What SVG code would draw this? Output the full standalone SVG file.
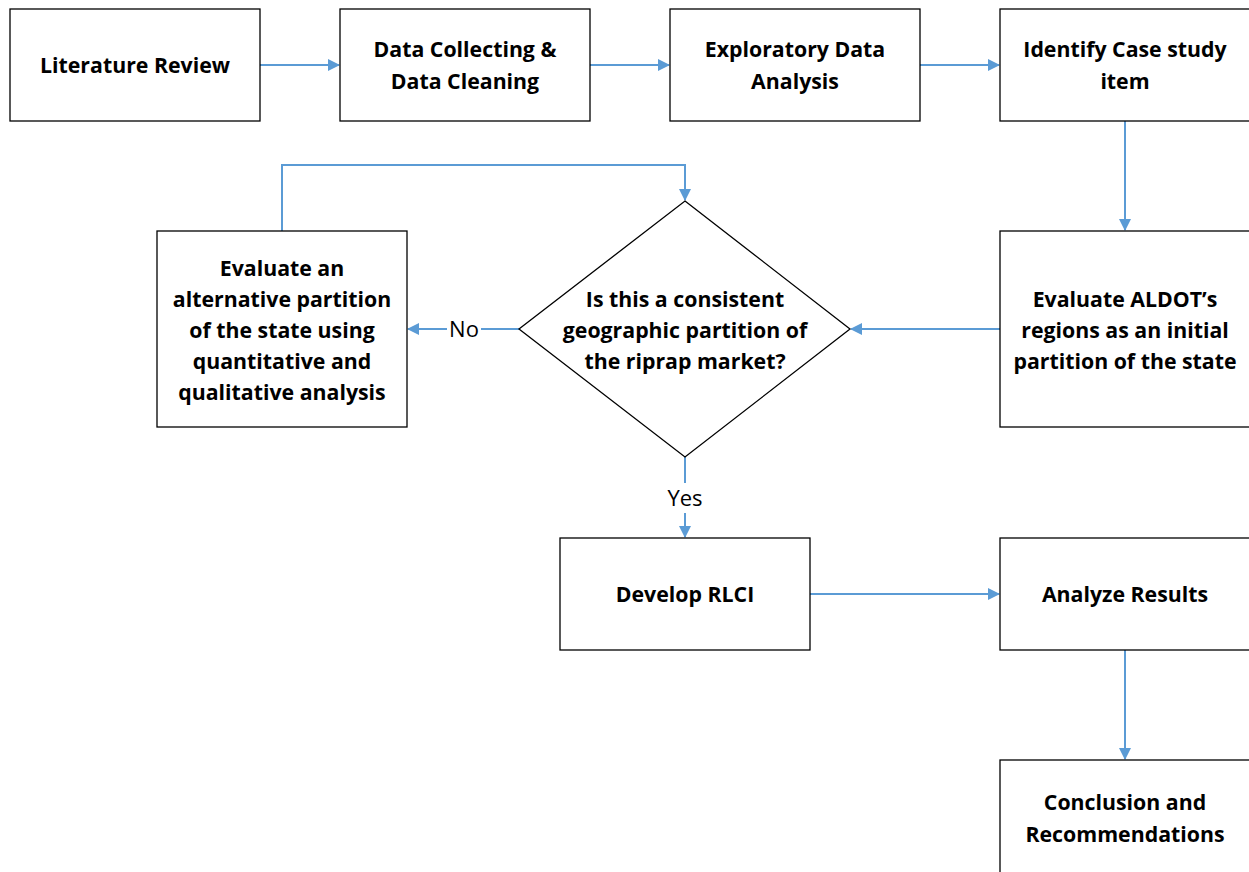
<svg xmlns="http://www.w3.org/2000/svg" width="1249" height="872" viewBox="0 0 1249 872">
<style>
.box{fill:#fff;stroke:#000;stroke-width:1.3}
.t{font-family:"Open Sans","Liberation Sans",sans-serif;font-weight:bold;font-size:21.3px;fill:#000;text-anchor:middle}
.lbl{font-family:"Open Sans","Liberation Sans",sans-serif;font-size:22px;fill:#000;text-anchor:middle}
.c{fill:none;stroke:#5B9BD5;stroke-width:2}
</style>
<defs>
<marker id="ah" markerWidth="12" markerHeight="12" refX="11" refY="6" orient="auto" markerUnits="userSpaceOnUse">
<path d="M0,0 L12,6 L0,12 Z" fill="#5B9BD5"/>
</marker>
</defs>
<rect width="1249" height="872" fill="#fff"/>
<g id="connectors">
<path class="c" d="M260,65 H339" marker-end="url(#ah)"/>
<path class="c" d="M590,65 H669" marker-end="url(#ah)"/>
<path class="c" d="M920,65 H999" marker-end="url(#ah)"/>
<path class="c" d="M1125,121 V230" marker-end="url(#ah)"/>
<path class="c" d="M1000,329 H851" marker-end="url(#ah)"/>
<path class="c" d="M519,329 H481"/>
<path class="c" d="M447,329 H408" marker-end="url(#ah)"/>
<path class="c" d="M282,231 V165 H685 V200" marker-end="url(#ah)"/>
<path class="c" d="M685,457 V483"/>
<path class="c" d="M685,513 V537" marker-end="url(#ah)"/>
<path class="c" d="M810,594 H999" marker-end="url(#ah)"/>
<path class="c" d="M1125,650 V759" marker-end="url(#ah)"/>
<text class="lbl" x="464" y="337">No</text>
<text class="lbl" x="685" y="506">Yes</text>
</g>
<g id="n1"><rect class="box" x="10" y="9" width="250" height="112"/><text class="t" x="135" y="73">Literature Review</text></g>
<g id="n2"><rect class="box" x="340" y="9" width="250" height="112"/><text class="t" x="465" y="57">Data Collecting &amp;</text><text class="t" x="465" y="89">Data Cleaning</text></g>
<g id="n3"><rect class="box" x="670" y="9" width="250" height="112"/><text class="t" x="795" y="57">Exploratory Data</text><text class="t" x="795" y="89">Analysis</text></g>
<g id="n4"><rect class="box" x="1000" y="9" width="250" height="112"/><text class="t" x="1125" y="57">Identify Case study</text><text class="t" x="1125" y="89">item</text></g>
<g id="n5"><rect class="box" x="1000" y="231" width="250" height="196"/><text class="t" x="1125" y="307">Evaluate ALDOT’s</text><text class="t" x="1125" y="338">regions as an initial</text><text class="t" x="1125" y="369">partition of the state</text></g>
<g id="n6"><polygon class="box" points="685,201 850,329 685,457 519,329"/><text class="t" x="685" y="307">Is this a consistent</text><text class="t" x="685" y="338">geographic partition of</text><text class="t" x="685" y="369">the riprap market?</text></g>
<g id="n7"><rect class="box" x="157" y="231" width="250" height="196"/><text class="t" x="282" y="276">Evaluate an</text><text class="t" x="282" y="307">alternative partition</text><text class="t" x="282" y="338">of the state using</text><text class="t" x="282" y="369">quantitative and</text><text class="t" x="282" y="400">qualitative analysis</text></g>
<g id="n8"><rect class="box" x="560" y="538" width="250" height="112"/><text class="t" x="685" y="602">Develop RLCI</text></g>
<g id="n9"><rect class="box" x="1000" y="538" width="250" height="112"/><text class="t" x="1125" y="602">Analyze Results</text></g>
<g id="n10"><rect class="box" x="1000" y="760" width="250" height="130"/><text class="t" x="1125" y="810">Conclusion and</text><text class="t" x="1125" y="842">Recommendations</text></g>
</svg>
